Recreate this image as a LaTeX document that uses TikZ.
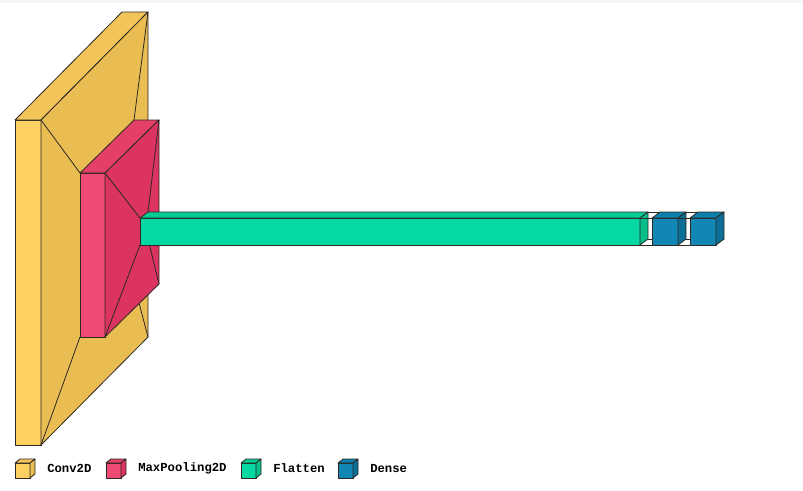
\documentclass[tikz,border=0pt]{standalone}
\usepackage{fontspec}
\newfontfamily\legendfont{Liberation Mono}
\usetikzlibrary{positioning}
\definecolor{ink}{RGB}{45,40,35}
\definecolor{convfront}{RGB}{253,208,98}
\definecolor{convtop}{RGB}{243,196,90}
\definecolor{convside}{RGB}{234,189,83}
\definecolor{poolfront}{RGB}{239,74,116}
\definecolor{pooltop}{RGB}{228,63,103}
\definecolor{poolside}{RGB}{219,52,96}
\definecolor{flatfront}{RGB}{5,216,160}
\definecolor{flattop}{RGB}{5,205,151}
\definecolor{flatside}{RGB}{4,190,140}
\definecolor{densefront}{RGB}{18,135,181}
\definecolor{densetop}{RGB}{14,127,170}
\definecolor{denseside}{RGB}{11,111,150}
\tikzset{
  face/.style={draw=ink,fill=#1,line width=0.6pt,line join=round},
  link/.style={draw=ink,line width=0.6pt},
  legendtext/.style={anchor=west,inner sep=0pt,font=\legendfont\bfseries\fontsize{9.2}{10}\selectfont},
}
% x, y, width, height, depth x, depth y, colour prefix
\newcommand{\layerbox}[7]{%
  \filldraw[face=#7front] (#1,#2) rectangle ++(#3,#4);
  \filldraw[face=#7top] (#1,#2) -- ++(#5,-#6) -- ++(#3,0) -- ++(-#5,#6) -- cycle;
  \filldraw[face=#7side] (#1+#3,#2) -- ++(#5,-#6) -- ++(0,#4) -- ++(-#5,#6) -- cycle;
}
\begin{document}
\begin{tikzpicture}[x=0.75pt,y=-0.75pt]
  \useasboundingbox (0,0) rectangle (803,490);
  \fill[gray!8] (0,0) rectangle (803,3);
  % Conv2D
  \layerbox{15}{120}{26}{325}{107}{108}{conv}
  \draw[link] (41,120) -- (80,173) (148,12) -- (134,120)
    (41,445) -- (80,337) (148,337) -- (134,284);
  % MaxPooling2D
  \layerbox{80}{173}{25}{164}{54}{53}{pool}
  \draw[link] (105,173) -- (140,218) (159,120) -- (148,212)
    (105,337) -- (140,245) (159,284) -- (148,239);
  % Flatten
  \layerbox{140}{218}{500}{27}{8}{6}{flat}
  \draw[link] (640,218) -- (652,218) (648,212) -- (660,212)
    (640,245) -- (652,245) (648,239) -- (660,239);
  % Dense
  \layerbox{652}{218}{26}{27}{8}{6}{dense}
  \draw[link] (678,218) -- (690,218) (686,212) -- (698,212)
    (678,245) -- (690,245) (686,239) -- (698,239);
  \layerbox{690}{218}{26}{27}{8}{6}{dense}
  % legend
  \foreach \x/\c/\t [count=\k] in {15/conv/Conv2D, 106/pool/MaxPooling2D,
      241/flat/Flatten, 338/dense/Dense}
  {
    \layerbox{\x}{463}{15}{15}{5}{4}{\c}
    \node[legendtext] (l\k) at (\x+32,468.5) {\t};
  }
\end{tikzpicture}
\end{document}
